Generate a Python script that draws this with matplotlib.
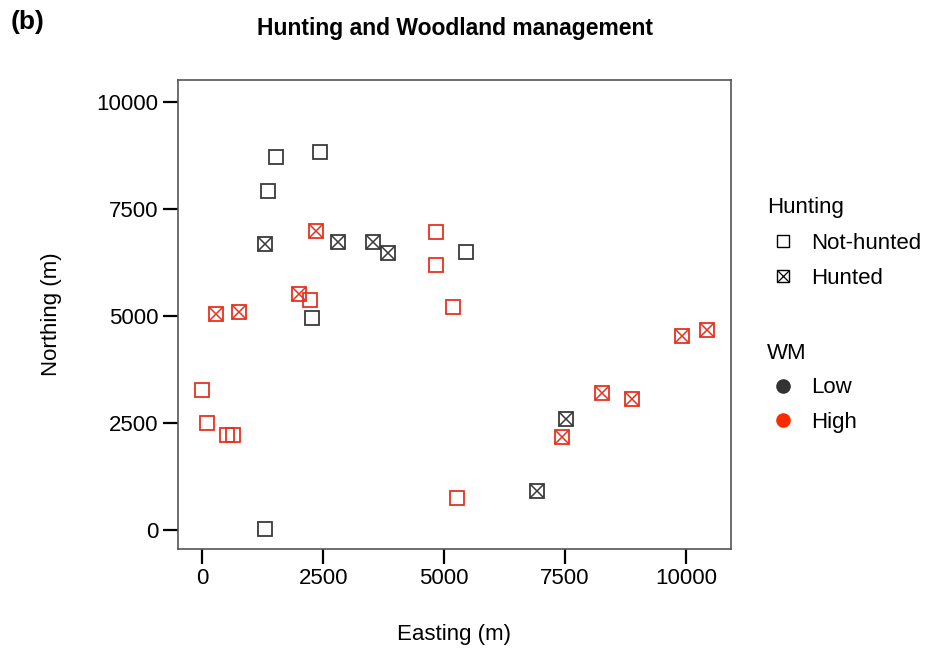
import matplotlib.pyplot as plt
from matplotlib.lines import Line2D

plt.rcParams['font.family'] = ['Liberation Sans', 'DejaVu Sans']

BLACK = '#3a3a3a'
RED = '#e8321f'

# Easting / Northing (m) for each woodland, split by WM level and hunting
low_open_x = [1530, 2440, 1360, 2270, 5460, 1300]
low_open_y = [8720, 8830, 7920, 4950, 6490, 10]
low_hunt_x = [1300, 2810, 3530, 3840, 7520, 6920]
low_hunt_y = [6680, 6720, 6720, 6470, 2590, 910]
high_open_x = [4840, 4840, 5190, 2230, 0, 100, 520, 630, 5260]
high_open_y = [6960, 6190, 5210, 5370, 3270, 2500, 2220, 2220, 730]
high_hunt_x = [2360, 2000, 290, 760, 7440, 8260, 8880, 9920, 10440]
high_hunt_y = [6980, 5510, 5040, 5090, 2170, 3200, 3060, 4530, 4670]

x_ticks = [0, 2500, 5000, 7500, 10000]
y_ticks = [0, 2500, 5000, 7500, 10000]

fig = plt.figure(figsize=(9.28, 6.48), dpi=100)
ax = fig.add_axes([0.1918, 0.1528, 0.5959, 0.7238])

MS = 10
for xs, ys, col, hunted in [(low_open_x, low_open_y, BLACK, False),
                            (low_hunt_x, low_hunt_y, BLACK, True),
                            (high_open_x, high_open_y, RED, False),
                            (high_hunt_x, high_hunt_y, RED, True)]:
    ax.plot(xs, ys, 's', ms=MS, mfc='none', mec=col, mew=1.3, linestyle='none')
    if hunted:
        ax.plot(xs, ys, 'x', ms=MS, mec=col, mew=1.1, linestyle='none')

ax.set_xlim(-500, 10930)
ax.set_ylim(-450, 10510)
ax.set_xticks(x_ticks)
ax.set_yticks(y_ticks)
ax.tick_params(labelsize=16, length=11, width=1.6, color='black', pad=3)
for s in ax.spines.values():
    s.set_color('#555555')
    s.set_linewidth(1.2)

ax.set_xlabel('Easting (m)', fontsize=16, labelpad=25)
ax.set_ylabel('Northing (m)', fontsize=16, labelpad=25)

fig.text(0.49, 0.956, 'Hunting and Woodland management', ha='center', va='center',
         fontsize=16.5, fontweight='bold')
fig.text(0.011, 0.966, '(b)', ha='left', va='center', fontsize=19, fontweight='bold')

sq = Line2D([], [], marker='s', ms=8, mfc='none', mec='black', mew=1.0, linestyle='none')
xm = Line2D([], [], marker='x', ms=8, mec='black', mew=0.9, linestyle='none')
leg1 = fig.legend([sq, (sq, xm)], ['Not-hunted', 'Hunted'], title='Hunting',
                  loc='upper left', bbox_to_anchor=(0.8218, 0.7025), frameon=False,
                  fontsize=16, title_fontsize=16, alignment='left',
                  borderpad=0.2, borderaxespad=0,
                  handlelength=1.45, handletextpad=0.55, labelspacing=0.65)
wm_handles = [
    Line2D([], [], marker='o', ms=9.5, color='#333333', linestyle='none'),
    Line2D([], [], marker='o', ms=9.5, color='#ff2a00', linestyle='none'),
]
leg2 = fig.legend(wm_handles, ['Low', 'High'], title='WM',
                  loc='upper left', bbox_to_anchor=(0.8218, 0.4775), frameon=False,
                  fontsize=16, title_fontsize=16, alignment='left',
                  borderpad=0.2, borderaxespad=0,
                  handlelength=1.45, handletextpad=0.55, labelspacing=0.6)

fig.savefig('out.png', dpi=100)
